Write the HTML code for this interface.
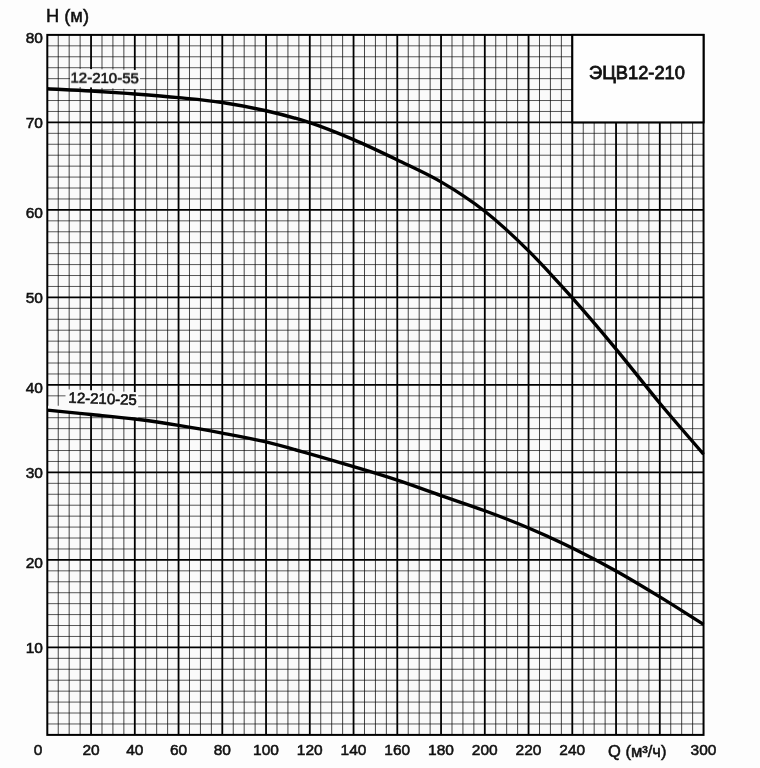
<!DOCTYPE html>
<html><head><meta charset="utf-8"><style>
html,body{margin:0;padding:0;background:#fff;}
body{width:760px;height:768px;overflow:hidden;}
svg{display:block;will-change:transform;}
text{font-family:"Liberation Sans", sans-serif;fill:#111;}
</style></head><body>
<svg width="760" height="768" viewBox="0 0 760 768">
<rect x="0" y="0" width="760" height="768" fill="#fdfdfd"/>
<rect x="47.30" y="34.90" width="656.25" height="700.00" fill="#fafafa"/>
<path d="M58.24,34.90V734.90 M69.17,34.90V734.90 M80.11,34.90V734.90 M101.99,34.90V734.90 M112.92,34.90V734.90 M123.86,34.90V734.90 M145.74,34.90V734.90 M156.68,34.90V734.90 M167.61,34.90V734.90 M189.49,34.90V734.90 M200.43,34.90V734.90 M211.36,34.90V734.90 M233.24,34.90V734.90 M244.18,34.90V734.90 M255.11,34.90V734.90 M276.99,34.90V734.90 M287.93,34.90V734.90 M298.86,34.90V734.90 M320.74,34.90V734.90 M331.68,34.90V734.90 M342.61,34.90V734.90 M364.49,34.90V734.90 M375.43,34.90V734.90 M386.36,34.90V734.90 M408.24,34.90V734.90 M419.18,34.90V734.90 M430.11,34.90V734.90 M451.99,34.90V734.90 M462.93,34.90V734.90 M473.86,34.90V734.90 M495.74,34.90V734.90 M506.68,34.90V734.90 M517.61,34.90V734.90 M539.49,34.90V734.90 M550.42,34.90V734.90 M561.36,34.90V734.90 M583.24,34.90V734.90 M594.17,34.90V734.90 M605.11,34.90V734.90 M626.99,34.90V734.90 M637.92,34.90V734.90 M648.86,34.90V734.90 M670.74,34.90V734.90 M681.67,34.90V734.90 M692.61,34.90V734.90" stroke="#444" stroke-width="1" fill="none"/>
<path d="M47.30,45.84H703.55 M47.30,56.77H703.55 M47.30,67.71H703.55 M47.30,78.65H703.55 M47.30,89.59H703.55 M47.30,100.53H703.55 M47.30,111.46H703.55 M47.30,133.34H703.55 M47.30,144.28H703.55 M47.30,155.21H703.55 M47.30,166.15H703.55 M47.30,177.09H703.55 M47.30,188.03H703.55 M47.30,198.96H703.55 M47.30,220.84H703.55 M47.30,231.78H703.55 M47.30,242.71H703.55 M47.30,253.65H703.55 M47.30,264.59H703.55 M47.30,275.52H703.55 M47.30,286.46H703.55 M47.30,308.34H703.55 M47.30,319.27H703.55 M47.30,330.21H703.55 M47.30,341.15H703.55 M47.30,352.09H703.55 M47.30,363.02H703.55 M47.30,373.96H703.55 M47.30,395.84H703.55 M47.30,406.77H703.55 M47.30,417.71H703.55 M47.30,428.65H703.55 M47.30,439.59H703.55 M47.30,450.52H703.55 M47.30,461.46H703.55 M47.30,483.34H703.55 M47.30,494.27H703.55 M47.30,505.21H703.55 M47.30,516.15H703.55 M47.30,527.09H703.55 M47.30,538.02H703.55 M47.30,548.96H703.55 M47.30,570.84H703.55 M47.30,581.77H703.55 M47.30,592.71H703.55 M47.30,603.65H703.55 M47.30,614.59H703.55 M47.30,625.52H703.55 M47.30,636.46H703.55 M47.30,658.34H703.55 M47.30,669.27H703.55 M47.30,680.21H703.55 M47.30,691.15H703.55 M47.30,702.09H703.55 M47.30,713.02H703.55 M47.30,723.96H703.55" stroke="#505050" stroke-width="0.95" fill="none" style="mix-blend-mode:multiply"/>
<path d="M91.05,34.90V734.90 M134.80,34.90V734.90 M178.55,34.90V734.90 M222.30,34.90V734.90 M266.05,34.90V734.90 M309.80,34.90V734.90 M353.55,34.90V734.90 M397.30,34.90V734.90 M441.05,34.90V734.90 M484.80,34.90V734.90 M528.55,34.90V734.90 M572.30,34.90V734.90 M616.05,34.90V734.90 M659.80,34.90V734.90 M47.30,122.40H703.55 M47.30,209.90H703.55 M47.30,297.40H703.55 M47.30,384.90H703.55 M47.30,472.40H703.55 M47.30,559.90H703.55 M47.30,647.40H703.55" stroke="#000" stroke-width="1.8" fill="none"/>
<rect x="47.30" y="34.90" width="656.25" height="700.00" fill="none" stroke="#000" stroke-width="2"/>
<!-- title box -->
<rect x="572.30" y="34.90" width="131.25" height="87.50" fill="#fefefe" stroke="#000" stroke-width="2"/>
<text x="637" y="78.7" text-anchor="middle" font-size="18.3" stroke="#111" stroke-width="0.8">ЭЦВ12-210</text>
<!-- label boxes -->
<polygon points="70,68.8 140,70 140,89.5 70,86.5" fill="#fafafa"/>
<polygon points="65.5,389.3 138.2,392.2 138.2,418 48,411 48,405.8 65.5,405.8" fill="#fafafa"/>
<path transform="translate(0 0.45)" d="M47.30,88.30 C61.88,89.03 76.47,89.62 91.05,90.50 C105.63,91.38 120.22,92.43 134.80,93.55 C149.38,94.67 163.97,95.79 178.55,97.20 C193.13,98.61 207.72,99.82 222.30,102.00 C236.88,104.18 251.47,106.93 266.05,110.30 C280.63,113.67 295.22,117.38 309.80,122.20 C324.38,127.02 338.97,132.98 353.55,139.20 C368.13,145.42 382.72,152.47 397.30,159.50 C411.88,166.53 426.47,172.85 441.05,181.40 C455.63,189.95 470.22,199.30 484.80,210.80 C499.38,222.30 513.97,235.95 528.55,250.40 C543.13,264.85 557.72,281.12 572.30,297.50 C586.88,313.88 601.47,331.15 616.05,348.70 C630.63,366.25 645.22,385.28 659.80,402.80 C674.38,420.32 688.97,436.80 703.55,453.80" stroke="#000" stroke-width="3.4" fill="none" stroke-linecap="butt"/>
<path transform="translate(0 0.45)" d="M47.30,409.70 C61.88,411.13 76.47,412.52 91.05,414.00 C105.63,415.48 120.22,416.78 134.80,418.60 C149.38,420.42 163.97,422.57 178.55,424.90 C193.13,427.23 207.72,429.83 222.30,432.60 C236.88,435.37 251.47,438.03 266.05,441.50 C280.63,444.97 295.22,449.28 309.80,453.40 C324.38,457.52 338.97,461.82 353.55,466.20 C368.13,470.58 382.72,474.88 397.30,479.70 C411.88,484.52 426.47,490.00 441.05,495.10 C455.63,500.20 470.22,504.90 484.80,510.30 C499.38,515.70 513.97,521.28 528.55,527.50 C543.13,533.72 557.72,540.43 572.30,547.60 C586.88,554.77 601.47,562.37 616.05,570.50 C630.63,578.63 645.22,587.50 659.80,596.40 C674.38,605.30 688.97,614.73 703.55,623.90" stroke="#000" stroke-width="3.4" fill="none" stroke-linecap="butt"/>
<g font-size="15" stroke="#111" stroke-width="0.6">
<text x="70.5" y="83" transform="rotate(0.8 104 77)">12-210-55</text>
<text x="68.5" y="403.9" transform="rotate(2.1 102 399)">12-210-25</text>
</g>
<g font-size="15.5" stroke="#111" stroke-width="0.55">
<text x="43" y="42.50" text-anchor="end">80</text>
<text x="43" y="127.80" text-anchor="end">70</text>
<text x="43" y="217.60" text-anchor="end">60</text>
<text x="43" y="302.65" text-anchor="end">50</text>
<text x="43" y="392.70" text-anchor="end">40</text>
<text x="43" y="478.20" text-anchor="end">30</text>
<text x="43" y="567.90" text-anchor="end">20</text>
<text x="43" y="653.40" text-anchor="end">10</text>

<text x="38.00" y="754.9" text-anchor="middle">0</text>
<text x="91.05" y="754.9" text-anchor="middle">20</text>
<text x="134.80" y="754.9" text-anchor="middle">40</text>
<text x="178.55" y="754.9" text-anchor="middle">60</text>
<text x="222.30" y="754.9" text-anchor="middle">80</text>
<text x="266.05" y="754.9" text-anchor="middle">100</text>
<text x="309.80" y="754.9" text-anchor="middle">120</text>
<text x="353.55" y="754.9" text-anchor="middle">140</text>
<text x="397.30" y="754.9" text-anchor="middle">160</text>
<text x="441.05" y="754.9" text-anchor="middle">180</text>
<text x="484.80" y="754.9" text-anchor="middle">200</text>
<text x="528.55" y="754.9" text-anchor="middle">220</text>
<text x="572.30" y="754.9" text-anchor="middle">240</text>
<text x="703.55" y="754.9" text-anchor="middle">300</text>

<text x="608" y="757" font-size="16.5">Q (м³/ч)</text>
</g>
<text x="46" y="22.2" font-size="18.3" stroke="#111" stroke-width="0.5">H (м)</text>
</svg>
</body></html>
